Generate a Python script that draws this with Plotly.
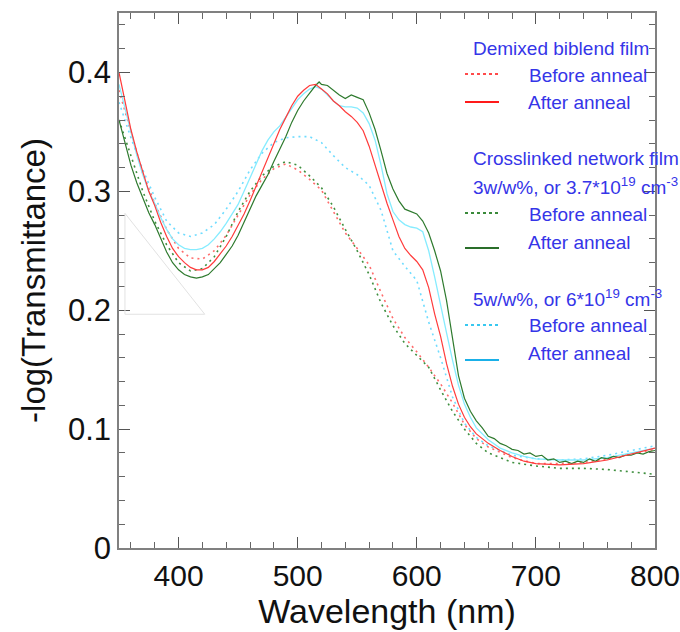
import plotly.graph_objects as go

# ---------------- data ----------------
wl_solid = [350, 355, 360, 365, 370, 375, 380, 385, 390, 395, 400, 405, 410, 415, 420, 425, 430, 435,
            440, 445, 450, 455, 460, 465, 470, 475, 480, 485, 490, 495, 500, 505, 510, 515, 520, 525,
            530, 535, 540, 545, 550, 555, 560, 565, 570, 575, 580, 585, 590, 595, 600, 605, 610, 615,
            620, 625, 630, 635, 640, 645, 650, 660, 670, 680, 690, 700, 720, 740, 760, 780, 800]

demixed_after = [0.400, 0.375, 0.352, 0.333, 0.316, 0.300, 0.288, 0.274, 0.262, 0.252, 0.245, 0.240,
                 0.236, 0.234, 0.234, 0.236, 0.241, 0.247, 0.254, 0.262, 0.271, 0.281, 0.292, 0.304,
                 0.316, 0.328, 0.340, 0.352, 0.362, 0.372, 0.380, 0.385, 0.389, 0.390, 0.386, 0.382,
                 0.376, 0.372, 0.367, 0.363, 0.358, 0.351, 0.338, 0.322, 0.305, 0.290, 0.276, 0.262,
                 0.252, 0.246, 0.241, 0.234, 0.219, 0.197, 0.178, 0.155, 0.136, 0.121, 0.110, 0.102,
                 0.096, 0.088, 0.082, 0.077, 0.073, 0.071, 0.070, 0.071, 0.074, 0.079, 0.084]

cl5_after = [0.390, 0.370, 0.348, 0.330, 0.314, 0.300, 0.290, 0.278, 0.268, 0.260, 0.255, 0.252,
             0.251, 0.251, 0.252, 0.255, 0.260, 0.266, 0.273, 0.281, 0.289, 0.300, 0.311, 0.323,
             0.334, 0.343, 0.350, 0.355, 0.362, 0.370, 0.377, 0.382, 0.386, 0.388, 0.386, 0.381,
             0.376, 0.372, 0.371, 0.371, 0.370, 0.366, 0.357, 0.343, 0.322, 0.298, 0.283, 0.276,
             0.272, 0.270, 0.269, 0.266, 0.250, 0.228, 0.203, 0.181, 0.158, 0.137, 0.121, 0.110,
             0.101, 0.091, 0.084, 0.080, 0.077, 0.075, 0.074, 0.074, 0.076, 0.080, 0.084]

wl_green = [350, 355, 360, 365, 370, 375, 380, 385, 390, 395, 400, 405, 410, 415, 420, 425, 430, 435,
            440, 445, 450, 455, 460, 465, 470, 475, 480, 485, 490, 495, 500, 505, 510, 515, 518, 520,
            525, 530, 535, 540, 545, 550, 555, 560, 565, 570, 575, 580, 585, 590, 595, 600, 605, 610,
            615, 620, 625, 630, 635, 640, 645, 650, 655, 660, 665, 670, 675, 680, 685, 690, 695, 700,
            705, 710, 715, 720, 725, 730, 735, 740, 745, 750, 755, 760, 765, 770, 775, 780, 785, 790,
            795, 800]

cl3_after = [0.360, 0.342, 0.322, 0.307, 0.295, 0.282, 0.272, 0.260, 0.249, 0.240, 0.234, 0.230,
             0.228, 0.227, 0.228, 0.230, 0.235, 0.240, 0.247, 0.254, 0.263, 0.274, 0.285, 0.296,
             0.305, 0.314, 0.325, 0.335, 0.346, 0.358, 0.368, 0.376, 0.383, 0.389, 0.392, 0.390,
             0.389, 0.385, 0.381, 0.378, 0.381, 0.379, 0.377, 0.366, 0.352, 0.334, 0.315, 0.302,
             0.292, 0.285, 0.283, 0.281, 0.275, 0.265, 0.250, 0.233, 0.208, 0.178, 0.145, 0.126,
             0.115, 0.107, 0.101, 0.094, 0.092, 0.088, 0.086, 0.083, 0.082, 0.079, 0.080, 0.077,
             0.078, 0.074, 0.075, 0.072, 0.073, 0.071, 0.073, 0.072, 0.075, 0.073, 0.076, 0.075,
             0.077, 0.076, 0.078, 0.078, 0.080, 0.079, 0.081, 0.082]

wl_dot = [350, 360, 370, 380, 390, 400, 410, 420, 430, 440, 450, 460, 470, 480, 490, 500, 510, 520,
          530, 540, 550, 560, 570, 580, 590, 600, 610, 620, 630, 640, 650, 660, 680, 700, 720, 740,
          760, 780, 800]

demixed_before = [0.385, 0.350, 0.315, 0.290, 0.268, 0.252, 0.244, 0.243, 0.250, 0.263, 0.280, 0.297,
                  0.310, 0.319, 0.323, 0.318, 0.310, 0.301, 0.283, 0.265, 0.252, 0.238, 0.215, 0.193,
                  0.177, 0.165, 0.152, 0.138, 0.122, 0.104, 0.092, 0.085, 0.076, 0.071, 0.071, 0.072,
                  0.075, 0.079, 0.083]

cl3_before = [0.360, 0.330, 0.300, 0.275, 0.255, 0.240, 0.233, 0.235, 0.245, 0.262, 0.283, 0.300,
              0.313, 0.321, 0.325, 0.322, 0.313, 0.303, 0.287, 0.268, 0.250, 0.230, 0.206, 0.187,
              0.172, 0.162, 0.152, 0.133, 0.115, 0.100, 0.088, 0.080, 0.072, 0.069, 0.067, 0.067,
              0.066, 0.064, 0.062]

cl5_before = [0.375, 0.345, 0.318, 0.295, 0.275, 0.265, 0.262, 0.265, 0.272, 0.285, 0.300, 0.318,
              0.332, 0.341, 0.345, 0.346, 0.346, 0.341, 0.330, 0.320, 0.314, 0.305, 0.284, 0.250,
              0.237, 0.225, 0.190, 0.160, 0.127, 0.105, 0.093, 0.086, 0.078, 0.075, 0.074, 0.075,
              0.078, 0.082, 0.086]

x_ticks = [400, 500, 600, 700, 800]
y_ticks = [0, 0.1, 0.2, 0.3, 0.4]
y_tick_labels = ["0", "0.1", "0.2", "0.3", "0.4"]

# ---------------- styles ----------------
RED = "#ff3b3b"
GREEN = "#2e7a2e"
CYAN = "#86ecff"
CYAN_DOT = "#6fdcff"
TXT_BLUE = "#3535e8"
SANS = "Liberation Sans, Arial, sans-serif"

fig = go.Figure()

dotdash = "2px,4px"
fig.add_trace(go.Scatter(x=wl_dot, y=demixed_before, mode="lines",
                         line=dict(color="#ff6b6b", width=1.6, dash=dotdash)))
fig.add_trace(go.Scatter(x=wl_dot, y=cl3_before, mode="lines",
                         line=dict(color="#3f8f3f", width=1.6, dash=dotdash)))
fig.add_trace(go.Scatter(x=wl_dot, y=cl5_before, mode="lines",
                         line=dict(color=CYAN_DOT, width=1.6, dash=dotdash)))
fig.add_trace(go.Scatter(x=wl_solid, y=cl5_after, mode="lines",
                         line=dict(color=CYAN, width=1.3)))
fig.add_trace(go.Scatter(x=wl_green, y=cl3_after, mode="lines",
                         line=dict(color=GREEN, width=1.2)))
fig.add_trace(go.Scatter(x=wl_solid, y=demixed_after, mode="lines",
                         line=dict(color=RED, width=1.2)))

# faint triangle artifact
fig.add_shape(type="path", xref="x", yref="y",
              path="M 355,0.2815 L 355,0.1966 L 422,0.1966 Z",
              line=dict(color="#e2e2e2", width=1))

# ---------------- legend (custom) ----------------
W, H = 680, 632
L, R, T, B = 119, 25, 13, 84
pw, ph = W - L - R, H - T - B


def px(xp):
    return (xp - L) / pw


def py(yp):
    return 1 - (yp - T) / ph


def text(xp, yp, s, anchor="left"):
    fig.add_annotation(x=px(xp), y=py(yp), xref="paper", yref="paper", text=s,
                       showarrow=False, xanchor=anchor, yanchor="middle",
                       font=dict(family=SANS, size=19, color=TXT_BLUE))


def sample(yp, color, dash):
    fig.add_shape(type="line", xref="paper", yref="paper",
                  x0=px(465), x1=px(499), y0=py(yp), y1=py(yp),
                  line=dict(color=color, width=2, dash=dash))


text(471, 48, "Demixed biblend film")
text(527, 76, "Before anneal")
text(526, 102, "After anneal")
sample(74, "#ff4a4a", "dot")
sample(102, "#ff1a1a", "solid")

text(471, 159, "Crosslinked network film")
text(471, 186, "3w/w%, or 3.7*10<sup>19</sup> cm<sup>-3</sup>")
text(527, 214, "Before anneal")
text(526, 242, "After anneal")
sample(213, "#3a8a3a", "dot")
sample(248, "#2a6e2a", "solid")

text(471, 298, "5w/w%, or 6*10<sup>19</sup> cm<sup>-3</sup>")
text(527, 325, "Before anneal")
text(526, 353, "After anneal")
sample(325, "#38c8f0", "dot")
sample(360, "#1ab0e8", "solid")

# ---------------- axes ----------------
axis_common = dict(showline=True, linecolor="#808080", linewidth=1.5, mirror="ticks",
                   ticks="inside", ticklen=11, tickwidth=1.3, tickcolor="#555555",
                   showgrid=False, zeroline=False, ticklabeloverflow="allow", automargin=False)

fig.update_xaxes(range=[350, 800.001], tickvals=x_ticks,
                 minor=dict(dtick=20, tick0=0, ticks="inside", ticklen=6, tickcolor="#666666", tickwidth=1),
                 tickfont=dict(family=SANS, size=30, color="#111111"),
                 title=dict(text="Wavelength (nm)", font=dict(family=SANS, size=34, color="#111111"),
                            standoff=4),
                 **axis_common)
fig.update_yaxes(range=[0, 0.45], tickvals=y_ticks, ticktext=y_tick_labels,
                 minor=dict(dtick=0.02, tick0=0, ticks="inside", ticklen=6, tickcolor="#666666", tickwidth=1),
                 tickfont=dict(family=SANS, size=31, color="#111111"),
                 title=dict(text="-log(Transmittance)", font=dict(family=SANS, size=33, color="#111111"),
                            standoff=12),
                 **axis_common)

fig.update_layout(width=W, height=H, margin=dict(l=L, r=R, t=T, b=B),
                  plot_bgcolor="white", paper_bgcolor="white", showlegend=False)

fig.write_html("out.html")
